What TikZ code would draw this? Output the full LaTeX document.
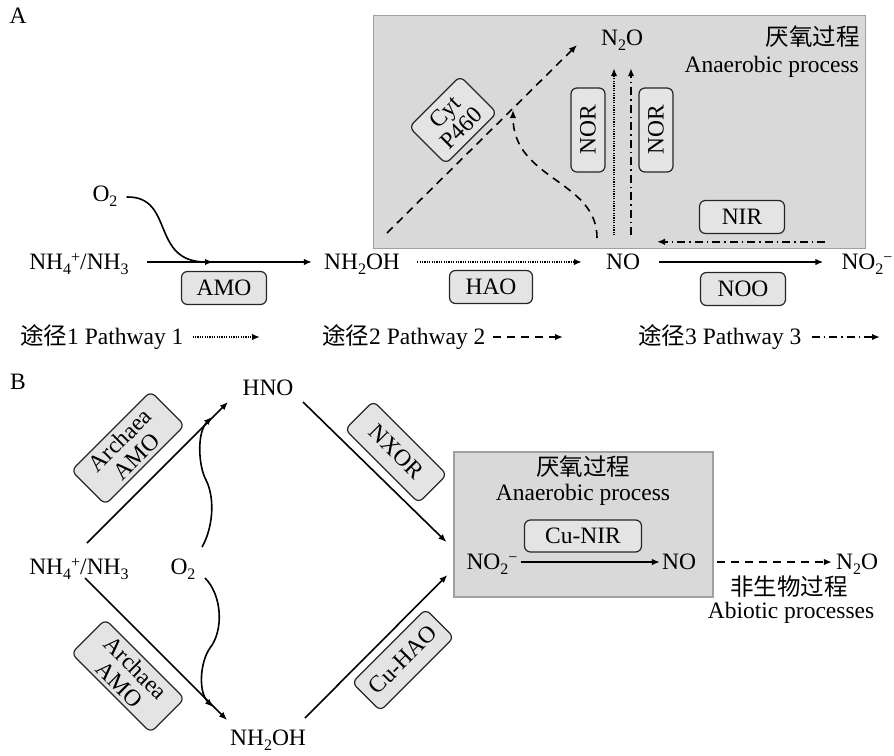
\documentclass[tikz,border=0pt]{standalone}
\usepackage{fontspec}
\setmainfont{Liberation Serif}
\newfontfamily\cjk{Noto Sans CJK SC}
\usetikzlibrary{arrows.meta}
\definecolor{bgray}{HTML}{D9D9D9}
\definecolor{bedge}{HTML}{A0A0A0}
\definecolor{efill}{HTML}{E4E4E4}
\newcommand\sbs[1]{\raisebox{-5pt}{\fontsize{16}{16}\selectfont #1}}
\newcommand\sps[1]{\raisebox{7.5pt}{\fontsize{16}{16}\selectfont #1}}
\tikzset{
 every node/.style={font=\fontsize{23.5}{23}\selectfont, inner sep=1pt},
 chem/.style={text height=21pt, text depth=6pt},
 enz/.style={draw=black!85, line width=1.2pt, fill=efill, rounded corners=6pt, align=center, inner sep=1pt},
 region/.style={draw=bedge, line width=1.2pt, fill=bgray},
 arr/.style={line width=1.6pt, -{Latex[length=8pt,width=6.5pt]}},
 pdot/.style={arr, dash pattern=on 1.2pt off 1.2pt},
 pdash/.style={arr, dash pattern=on 8pt off 6pt},
 pdashdot/.style={arr, dash pattern=on 8pt off 4pt on 1.5pt off 4pt},
}
\begin{document}
\begin{tikzpicture}[x=1pt,y=-1pt]
\useasboundingbox (0,0) rectangle (894,755);

% ---------------- Panel A ----------------
\node[region, minimum width=492pt, minimum height=233pt, anchor=north west] (anA) at (373,15) {};
\node (lblA) at (18,16) {A};
\node[chem] (nh4a) at (79,262) {NH\sbs{4}\sps{+}/NH\sbs{3}};
\node[chem] (o2a) at (105,194) {O\sbs{2}};
\node[chem] (nh2oha) at (362,262) {NH\sbs{2}OH};
\node[chem] (noa) at (623,262) {NO};
\node[chem] (no2a) at (867,262) {NO\sbs{2}\sps{−}};
\node[chem] (n2oa) at (622,38) {N\sbs{2}O};
\node[anchor=east] (cnA) at (861,37) {\cjk 厌氧过程};
\node[anchor=east] (enA) at (860,67) {Anaerobic process};

\node[enz, minimum width=85pt, minimum height=33pt] (amo) at (224,288) {AMO};
\node[enz, minimum width=83pt, minimum height=33pt] (hao) at (491,287) {HAO};
\node[enz, minimum width=85pt, minimum height=33pt] (noo) at (743,289) {NOO};
\node[enz, minimum width=85pt, minimum height=33pt] (nir) at (742,217) {NIR};
\node[enz, rotate=90, minimum width=84pt, minimum height=34pt] (nor1) at (588,130) {NOR};
\node[enz, rotate=90, minimum width=84pt, minimum height=34pt] (nor2) at (656,130) {NOR};
\node[enz, rotate=45, minimum width=72pt, minimum height=52pt] (cyt) at (453,120) {Cyt\\P460};

\coordinate (amoin) at (213,262);
\draw[arr] ([xshift=17pt]nh4a.east) -- ([xshift=-11pt]nh2oha.west);
\draw[arr] ([xshift=8pt,yshift=-3pt]o2a.east) .. controls (175,196) and (150,262) .. (amoin);
\draw[pdot] ([xshift=16pt]nh2oha.east) -- ([xshift=-23pt]noa.west);
\draw[arr] ([xshift=18pt]noa.east) -- ([xshift=-17pt]no2a.west);

\coordinate (cytst) at (387,233);
\coordinate (cyten) at (577,45);
\draw[pdash] (cytst) -- (cyten);
\coordinate (hoxst) at (597,238);
\coordinate (hoxen) at (513,110);
\draw[pdash] (hoxst) .. controls (597,180) and (513,180) .. (hoxen);
\draw[pdot] ([xshift=-9pt,yshift=12pt]noa.north) -- ([xshift=-8pt,yshift=-15.5pt]n2oa.south);
\draw[pdashdot] ([xshift=8pt,yshift=12pt]noa.north) -- ([xshift=9pt,yshift=-15.5pt]n2oa.south);
\draw[pdashdot] ([xshift=-42pt,yshift=5.5pt]no2a.north) -- ([xshift=34pt,yshift=5.5pt]noa.north);

% legend
\node[chem, anchor=west] (leg1) at (19,337) {{\cjk 途径}1 Pathway 1};
\node[chem, anchor=west] (leg2) at (321,337) {{\cjk 途径}2 Pathway 2};
\node[chem, anchor=west] (leg3) at (637,337) {{\cjk 途径}3 Pathway 3};
\coordinate (leg1e) at (260,337);
\coordinate (leg2e) at (563,337);
\coordinate (leg3e) at (880,337);
\draw[pdot] ([xshift=8pt]leg1.east) -- (leg1e);
\draw[pdash] ([xshift=6pt]leg2.east) -- (leg2e);
\draw[pdashdot] ([xshift=9pt]leg3.east) -- (leg3e);

% ---------------- Panel B ----------------
\node (lblB) at (18,382) {B};
\node[region, minimum width=259pt, minimum height=145pt] (anB) at (583.5,524.5) {};
\node[chem] (hno) at (268,388) {HNO};
\node[chem] (nh4b) at (79,567) {NH\sbs{4}\sps{+}/NH\sbs{3}};
\node[chem] (o2b) at (183,567) {O\sbs{2}};
\node[chem] (nh2ohb) at (268,738) {NH\sbs{2}OH};

\node[enz, rotate=45, minimum width=112pt, minimum height=48pt] (aamo1) at (128,448) {Archaea\\AMO};
\node[enz, rotate=-45, minimum width=112pt, minimum height=48pt] (aamo2) at (128,676) {Archaea\\AMO};
\node[enz, rotate=-45, minimum width=104pt, minimum height=40pt] (nxor) at (396,452) {NXOR};
\node[enz, rotate=45, minimum width=104pt, minimum height=40pt] (cuhao) at (403,660) {Cu-HAO};

\draw[arr] ([shift={(8,-24)}]nh4b.center) -- ([shift={(-40,14)}]hno.center);
\draw[arr] ([shift={(6,11)}]nh4b.center) -- ([shift={(-41,-18)}]nh2ohb.center);
\coordinate (o2upen) at (212,417);
\coordinate (o2dnen) at (213,707);
\draw[arr] ([shift={(19,-20)}]o2b.center) .. controls (212,530) and (216,500) .. (206,480)
   .. controls (198,465) and (197,432) .. (o2upen);
\draw[arr] ([shift={(22,11)}]o2b.center) .. controls (222,595) and (224,630) .. (210,648)
   .. controls (200,662) and (198,692) .. (o2dnen);
\draw[arr] ([shift={(35,14)}]hno.center) -- ([shift={(-7,17.5)}]anB.west);
\draw[arr] ([shift={(37,-20)}]nh2ohb.center) -- ([shift={(-6,50.5)}]anB.west);

\node (cnB) at (583,467) {\cjk 厌氧过程};
\node (enB) at (583,495) {Anaerobic process};
\node[enz, minimum width=117pt, minimum height=32pt] (cunir) at (583,536) {Cu-NIR};
\node[chem] (no2b) at (492,562) {NO\sbs{2}\sps{−}};
\node[chem] (nob) at (679,562) {NO};
\node[chem] (n2ob) at (857,562) {N\sbs{2}O};
\draw[arr] ([xshift=2pt]no2b.east) -- ([xshift=-1pt]nob.west);
\draw[pdash] ([xshift=20pt]nob.east) -- ([xshift=-3pt]n2ob.west);
\node (cnC) at (789,587) {\cjk 非生物过程};
\node (enC) at (791,613) {Abiotic processes};
\end{tikzpicture}
\end{document}
